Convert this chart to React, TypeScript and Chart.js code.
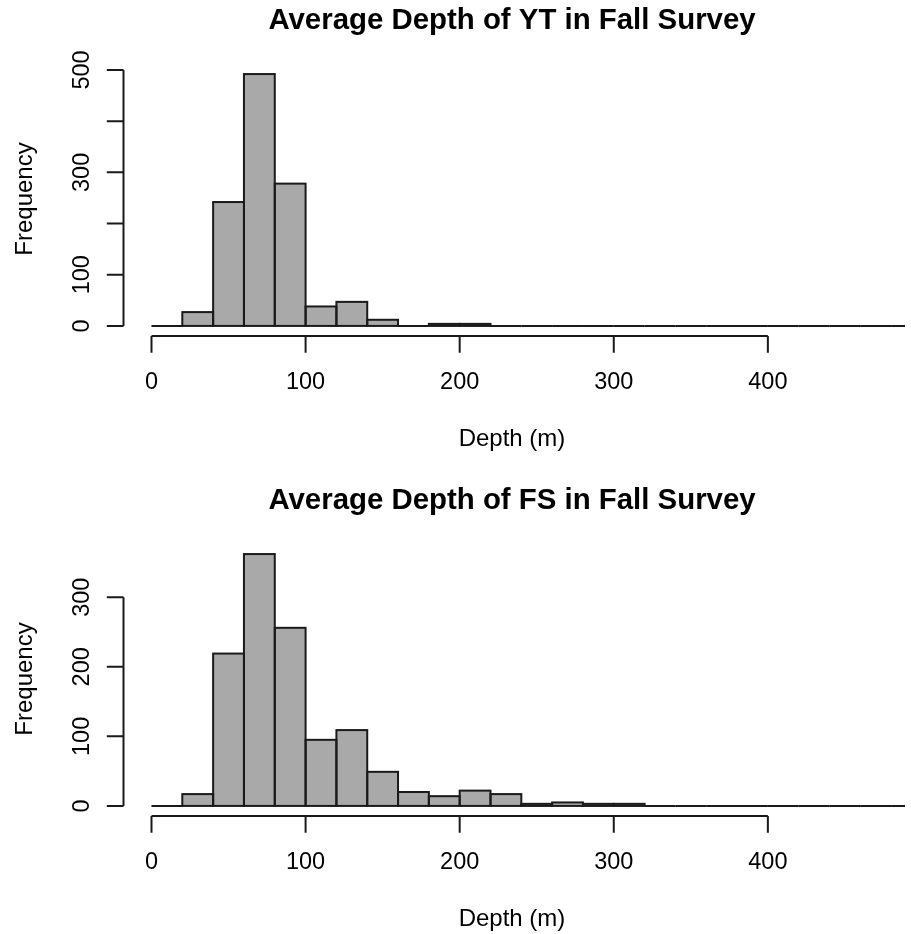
import { useEffect, useRef } from "react";
import { Chart, registerables } from "chart.js";

Chart.register(...registerables);

// Histogram bins: lower/upper edges, 20 m wide
const binEdges = [0, 20, 40, 60, 80, 100, 120, 140, 160, 180, 200, 220, 240, 260, 280, 300, 320, 340, 360, 380, 400, 420, 440, 460, 480, 500];

// Counts per bin
const ytCounts = [0, 27, 242, 492, 278, 38, 47, 12, 0, 4, 4, 0, 0, 0, 0, 0, 0, 0, 0, 0, 0, 0, 0, 0, 0];
const fsCounts = [0, 17, 219, 362, 256, 95, 109, 49, 20, 14, 22, 17, 3, 5, 3, 3, 0, 0, 0, 0, 0, 0, 0, 0, 0];

// Axis ticks
const xTicks = [0, 100, 200, 300, 400];
const ytYTicks = [0, 100, 200, 300, 400, 500];
const fsYTicks = [0, 100, 200, 300];

const ytTitle = "Average Depth of YT in Fall Survey";
const fsTitle = "Average Depth of FS in Fall Survey";
const xLabel = "Depth (m)";
const yLabel = "Frequency";

const FONT = "'Liberation Sans', Arial, sans-serif";
const INK = "#1a1a1a";
const BAR_FILL = "#a9a9a9";
const PANEL_W = 911;
const PANEL_H = 480;

type PanelProps = { title: string; counts: number[]; yTicks: number[] };

// Base-graphics style axes, outlines and labels drawn on top of the bar chart
const basePlotPlugin = {
  id: "basePlot",
  afterDatasetsDraw(chart: any) {
    const { ctx, chartArea } = chart;
    const meta = chart.getDatasetMeta(0);
    ctx.save();
    ctx.beginPath();
    ctx.rect(chartArea.left, 0, chartArea.right - chartArea.left, chart.height);
    ctx.clip();
    ctx.lineWidth = 2;
    ctx.strokeStyle = INK;
    meta.data.forEach((el: any) => {
      const { x, y, base, width } = el.getProps(["x", "y", "base", "width"], true);
      ctx.strokeRect(x - width / 2, y, width, base - y);
    });
    ctx.restore();
  },
  afterDraw(chart: any, _args: any, opts: any) {
    const { ctx, chartArea } = chart;
    const xs = chart.scales.x;
    const ys = chart.scales.y;
    const tickLen = 16.7;
    ctx.save();
    ctx.strokeStyle = INK;
    ctx.fillStyle = "#000";
    ctx.lineWidth = 2;
    ctx.lineCap = "butt";

    // x axis
    const xb = chartArea.bottom;
    const xt: number[] = opts.xTicks;
    ctx.beginPath();
    ctx.moveTo(xs.getPixelForValue(xt[0]), xb);
    ctx.lineTo(xs.getPixelForValue(xt[xt.length - 1]), xb);
    xt.forEach((v) => {
      const px = xs.getPixelForValue(v);
      ctx.moveTo(px, xb);
      ctx.lineTo(px, xb + tickLen);
    });
    ctx.stroke();
    ctx.font = `23.5px ${FONT}`;
    ctx.textAlign = "center";
    ctx.textBaseline = "alphabetic";
    xt.forEach((v) => {
      ctx.fillText(String(v), xs.getPixelForValue(v), xb + 53);
    });

    // y axis; labels that would crowd their neighbour are skipped
    const yl = chartArea.left;
    const yt: number[] = opts.yTicks;
    ctx.beginPath();
    ctx.moveTo(yl, ys.getPixelForValue(yt[0]));
    ctx.lineTo(yl, ys.getPixelForValue(yt[yt.length - 1]));
    yt.forEach((v) => {
      const py = ys.getPixelForValue(v);
      ctx.moveTo(yl, py);
      ctx.lineTo(yl - tickLen, py);
    });
    ctx.stroke();
    const gap = ctx.measureText("m").width;
    let lastTop = Infinity;
    yt.forEach((v) => {
      const label = String(v);
      const w = ctx.measureText(label).width;
      const py = ys.getPixelForValue(v);
      if (py + w / 2 > lastTop - gap) return;
      lastTop = py - w / 2;
      ctx.save();
      ctx.translate(yl - 34.5, py);
      ctx.rotate(-Math.PI / 2);
      ctx.fillText(label, 0, 0);
      ctx.restore();
    });

    // axis titles
    const cx = 512;
    ctx.font = `24px ${FONT}`;
    ctx.fillText(xLabel, cx, xb + 110);
    ctx.save();
    ctx.translate(31.5, (chartArea.top + chartArea.bottom) / 2 - 1);
    ctx.rotate(-Math.PI / 2);
    ctx.fillText(yLabel, 0, 0);
    ctx.restore();

    // main title
    ctx.font = `bold 29.4px ${FONT}`;
    ctx.fillText(opts.title, cx, 29.3);
    ctx.restore();
  },
};

function HistPanel({ title, counts, yTicks }: PanelProps) {
  const ref = useRef<HTMLCanvasElement | null>(null);

  useEffect(() => {
    if (!ref.current) return;
    const peak = Math.max(...counts);
    const data = counts.map((c, i) => ({ x: (binEdges[i] + binEdges[i + 1]) / 2, y: c }));
    const chart = new Chart(ref.current, {
      type: "bar",
      data: {
        datasets: [
          {
            data,
            backgroundColor: BAR_FILL,
            borderWidth: 0,
            barPercentage: 1,
            categoryPercentage: 1,
          },
        ],
      },
      options: {
        responsive: false,
        animation: false,
        events: [],
        layout: { padding: { left: 123.5, right: PANEL_W - 905, top: 64, bottom: PANEL_H - 336 } },
        scales: {
          x: {
            type: "linear",
            display: false,
            offset: false,
            grid: { offset: false },
            bounds: "ticks",
            min: -18.17,
            max: 489,
          },
          y: { type: "linear", display: false, min: -0.04 * peak, max: 1.04 * peak },
        },
        plugins: {
          legend: { display: false },
          tooltip: { enabled: false },
          title: { display: false },
          basePlot: { title, yTicks, xTicks },
        } as any,
      },
      plugins: [basePlotPlugin],
    });
    return () => chart.destroy();
  }, [title, counts, yTicks]);

  return (
    <canvas
      ref={ref}
      width={PANEL_W}
      height={PANEL_H}
      style={{ display: "block", width: PANEL_W, height: PANEL_H }}
    />
  );
}

export default function App() {
  return (
    <div
      style={{
        position: "absolute",
        left: 0,
        top: 0,
        width: PANEL_W,
        height: 934,
        overflow: "hidden",
        background: "#fff",
      }}
    >
      <HistPanel title={ytTitle} counts={ytCounts} yTicks={ytYTicks} />
      <HistPanel title={fsTitle} counts={fsCounts} yTicks={fsYTicks} />
    </div>
  );
}
